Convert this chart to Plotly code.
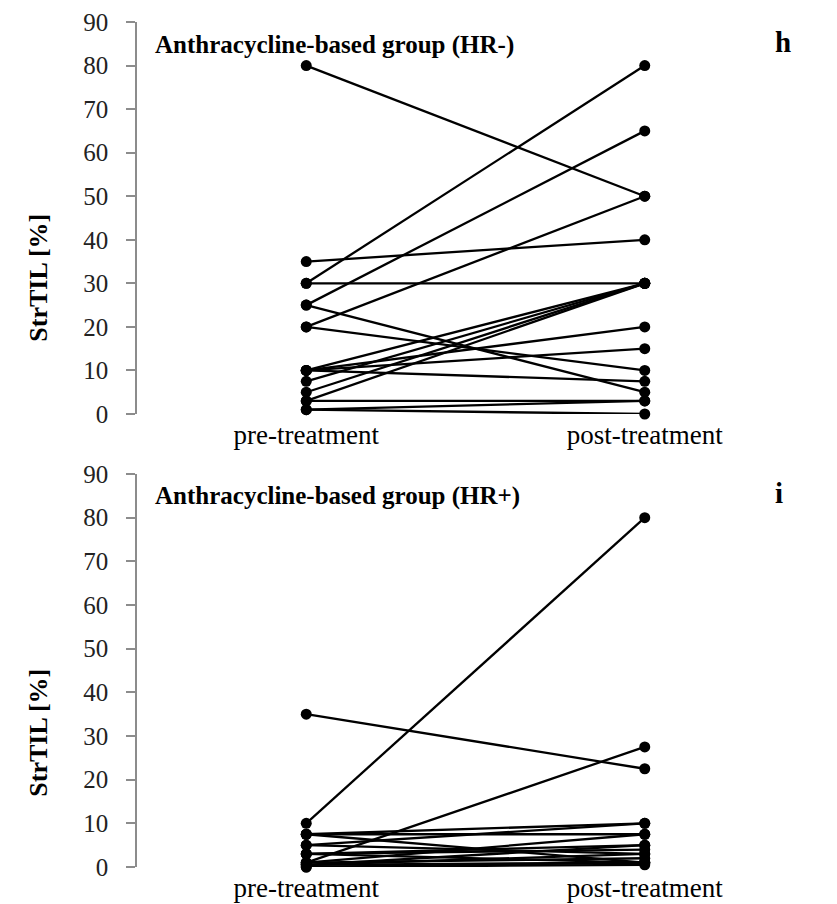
import plotly.graph_objects as go

# StrTIL [%] before and after anthracycline-based treatment, one pair per patient
categories = ["pre-treatment", "post-treatment"]
y_ticks = [0, 10, 20, 30, 40, 50, 60, 70, 80, 90]

hr_neg_pre = [80, 35, 30, 30, 25, 25, 20, 20, 10, 10, 10, 10, 7.5, 5, 3, 3, 1, 1]
hr_neg_post = [50, 40, 80, 30, 65, 5, 50, 10, 30, 20, 15, 7.5, 30, 30, 30, 3, 3, 0]

hr_pos_pre = [35, 10, 1, 7.5, 7.5, 7.5, 5, 5, 3, 3, 3, 1, 1, 0.5, 0.5, 0.5, 0, 0]
hr_pos_post = [22.5, 80, 27.5, 10, 7.5, 1, 10, 3, 5, 1, 4, 7.5, 2, 5, 1, 3, 1, 0.5]

SERIF = "Liberation Serif, Times New Roman, serif"
AXIS_GREY = "#8c8c8c"


def paired_xy(pre, post):
    xs, ys = [], []
    for a, b in zip(pre, post):
        xs += [0, 1, None]
        ys += [a, b, None]
    return xs, ys


fig = go.Figure()
for pre, post, xa, ya in [(hr_neg_pre, hr_neg_post, "x", "y"),
                          (hr_pos_pre, hr_pos_post, "x2", "y2")]:
    xs, ys = paired_xy(pre, post)
    fig.add_trace(go.Scatter(
        x=xs, y=ys, xaxis=xa, yaxis=ya,
        mode="lines+markers",
        line=dict(color="black", width=2.3),
        marker=dict(color="black", size=11),
        cliponaxis=False, showlegend=False, hoverinfo="y",
    ))

W, H = 837, 904
top_dom = [1 - 414 / H, 1 - 22 / H]
bot_dom = [1 - 867 / H, 1 - 474 / H]

xaxis_common = dict(
    range=[-0.5, 1.5], tickvals=[0, 1], ticktext=categories,
    showline=False, showgrid=False, zeroline=False, ticks="",
    tickfont=dict(family=SERIF, size=27, color="black"),
    ticklabelstandoff=2, automargin=False, fixedrange=True,
)
yaxis_common = dict(
    range=[0, 90], tickvals=y_ticks, showgrid=False, zeroline=False,
    showline=True, linecolor=AXIS_GREY, linewidth=1.5,
    ticks="outside", ticklen=9, tickcolor=AXIS_GREY, tickwidth=1.5,
    tickfont=dict(family=SERIF, size=25, color="#222222"),
    ticklabelstandoff=13, automargin=False, fixedrange=True,
)

fig.update_layout(
    width=W, height=H,
    margin=dict(l=136.5, r=22.5, t=0, b=0, autoexpand=False),
    paper_bgcolor="white", plot_bgcolor="white",
    xaxis=dict(domain=[0, 1], anchor="y", **xaxis_common),
    yaxis=dict(domain=top_dom, anchor="x", **yaxis_common),
    xaxis2=dict(domain=[0, 1], anchor="y2", **xaxis_common),
    yaxis2=dict(domain=bot_dom, anchor="x2", **yaxis_common),
)

annotations = [
    ("Anthracycline-based group (HR-)", 153, 45, 25),
    ("Anthracycline-based group (HR+)", 153, 496, 25),
    ("h", 773, 42, 29),
    ("i", 773, 493, 29),
]
for text, px, py, size in annotations:
    fig.add_annotation(
        text=f"<b>{text}</b>", xref="paper", yref="paper",
        x=(px - 136.5) / (W - 159), y=1 - py / H,
        xanchor="left", yanchor="middle", showarrow=False,
        font=dict(family=SERIF, size=size, color="black"),
    )

for cy in (278, 733):
    fig.add_annotation(
        text="<b>StrTIL [%]</b>", xref="paper", yref="paper",
        x=(37 - 136.5) / (W - 159), y=1 - cy / H,
        xanchor="center", yanchor="middle", textangle=-90, showarrow=False,
        font=dict(family=SERIF, size=26, color="black"),
    )

fig.write_html("out.html")
